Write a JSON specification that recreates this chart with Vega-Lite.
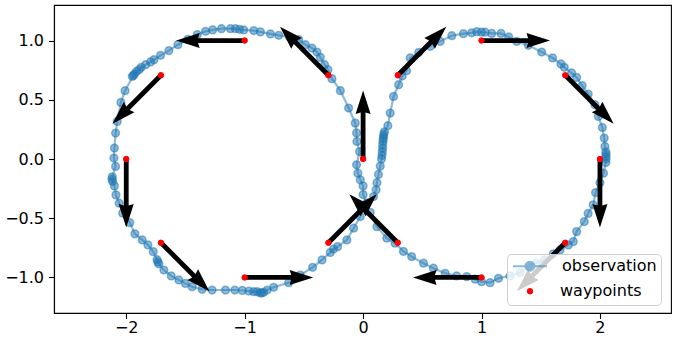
{
  "$schema": "https://vega.github.io/schema/vega-lite/v6.json",
  "width": 617,
  "height": 308,
  "autosize": {"type": "none"},
  "padding": {"left": 54, "top": 5, "right": 9, "bottom": 25},
  "background": "white",
  "config": {
    "view": {"stroke": "black", "strokeWidth": 1.1},
    "axis": {
      "grid": false, "domainColor": "black", "domainWidth": 1.1,
      "tickColor": "black", "tickWidth": 1.1, "tickSize": 5.5, "labelPadding": 5,
      "labelFont": "DejaVu Sans", "labelFontSize": 16, "labelColor": "black", "title": null
    }
  },
  "resolve": {"scale": {"color": "independent"}, "legend": {"color": "independent"}},
  "datasets": {
    "obs": [
      {"x":0.03,"y":-0.37},{"x":0.0,"y":-0.3},{"x":0.0,"y":-0.227},{"x":-0.024,"y":-0.176},{"x":-0.044,"y":-0.12},
      {"x":-0.055,"y":-0.049},{"x":-0.03,"y":0.063},{"x":-0.052,"y":0.148},{"x":-0.055,"y":0.22},{"x":-0.066,"y":0.303},
      {"x":-0.122,"y":0.43},{"x":-0.192,"y":0.577},{"x":-0.263,"y":0.678},{"x":-0.297,"y":0.754},{"x":-0.325,"y":0.796},
      {"x":-0.361,"y":0.858},{"x":-0.39,"y":0.903},{"x":-0.432,"y":0.937},{"x":-0.487,"y":0.965},{"x":-0.544,"y":1.008},
      {"x":-0.62,"y":1.03},{"x":-0.712,"y":1.044},{"x":-0.782,"y":1.056},{"x":-0.867,"y":1.073},{"x":-0.923,"y":1.084},
      {"x":-1.008,"y":1.09},{"x":-1.044,"y":1.095},{"x":-1.078,"y":1.1},{"x":-1.12,"y":1.1},{"x":-1.196,"y":1.1},
      {"x":-1.27,"y":1.09},{"x":-1.33,"y":1.078},{"x":-1.4,"y":1.05},{"x":-1.48,"y":1.01},{"x":-1.564,"y":0.965},
      {"x":-1.64,"y":0.915},{"x":-1.71,"y":0.875},{"x":-1.766,"y":0.838},{"x":-1.794,"y":0.819},{"x":-1.836,"y":0.796},
      {"x":-1.873,"y":0.774},{"x":-1.89,"y":0.755},{"x":-1.912,"y":0.74},{"x":-1.93,"y":0.718},{"x":-1.949,"y":0.697},
      {"x":-1.94,"y":0.705},{"x":-2.01,"y":0.577},{"x":-2.045,"y":0.478},{"x":-2.076,"y":0.317},{"x":-2.09,"y":0.219},
      {"x":-2.1,"y":0.092},{"x":-2.104,"y":0.008},{"x":-2.09,"y":-0.063},{"x":-2.118,"y":-0.15},{"x":-2.12,"y":-0.17},
      {"x":-2.115,"y":-0.19},{"x":-2.1,"y":-0.227},{"x":-2.087,"y":-0.303},{"x":-2.06,"y":-0.373},{"x":-2.03,"y":-0.457},
      {"x":-1.97,"y":-0.537},{"x":-1.927,"y":-0.632},{"x":-1.865,"y":-0.683},{"x":-1.817,"y":-0.725},{"x":-1.772,"y":-0.782},
      {"x":-1.74,"y":-0.85},{"x":-1.733,"y":-0.869},{"x":-1.725,"y":-0.885},{"x":-1.682,"y":-0.937},{"x":-1.62,"y":-0.987},
      {"x":-1.556,"y":-1.021},{"x":-1.5,"y":-1.05},{"x":-1.443,"y":-1.078},{"x":-1.359,"y":-1.1},{"x":-1.275,"y":-1.106},
      {"x":-1.162,"y":-1.106},{"x":-1.083,"y":-1.106},{"x":-1.02,"y":-1.11},{"x":-0.965,"y":-1.115},{"x":-0.923,"y":-1.12},
      {"x":-0.895,"y":-1.12},{"x":-0.87,"y":-1.13},{"x":-0.856,"y":-1.13},{"x":-0.84,"y":-1.125},{"x":-0.81,"y":-1.106},
      {"x":-0.755,"y":-1.083},{"x":-0.628,"y":-1.044},{"x":-0.53,"y":-0.98},{"x":-0.426,"y":-0.914},{"x":-0.347,"y":-0.852},
      {"x":-0.277,"y":-0.79},{"x":-0.25,"y":-0.76},{"x":-0.215,"y":-0.74},{"x":-0.137,"y":-0.683},{"x":-0.08,"y":-0.584},
      {"x":-0.024,"y":-0.486},{"x":0.02,"y":-0.4},{"x":0.089,"y":-0.317},{"x":0.11,"y":-0.26},{"x":0.117,"y":-0.2},
      {"x":0.13,"y":-0.13},{"x":0.145,"y":-0.06},{"x":0.155,"y":0.0},{"x":0.16,"y":0.03},{"x":0.162,"y":0.06},
      {"x":0.165,"y":0.09},{"x":0.165,"y":0.12},{"x":0.168,"y":0.15},{"x":0.17,"y":0.17},{"x":0.172,"y":0.19},
      {"x":0.175,"y":0.21},{"x":0.18,"y":0.23},{"x":0.209,"y":0.281},{"x":0.229,"y":0.388},{"x":0.257,"y":0.528},
      {"x":0.3,"y":0.627},{"x":0.33,"y":0.7},{"x":0.367,"y":0.745},{"x":0.398,"y":0.853},{"x":0.47,"y":0.9},
      {"x":0.567,"y":0.951},{"x":0.651,"y":0.993},{"x":0.749,"y":1.041},{"x":0.847,"y":1.058},{"x":0.917,"y":1.065},
      {"x":0.96,"y":1.075},{"x":1.0,"y":1.07},{"x":1.03,"y":1.07},{"x":1.086,"y":1.06},{"x":1.165,"y":1.06},
      {"x":1.23,"y":1.03},{"x":1.297,"y":0.993},{"x":1.395,"y":0.96},{"x":1.508,"y":0.903},{"x":1.6,"y":0.853},
      {"x":1.671,"y":0.802},{"x":1.699,"y":0.774},{"x":1.761,"y":0.726},{"x":1.803,"y":0.689},{"x":1.85,"y":0.62},
      {"x":1.901,"y":0.548},{"x":1.958,"y":0.458},{"x":1.986,"y":0.359},{"x":2.02,"y":0.266},{"x":2.036,"y":0.177},
      {"x":2.042,"y":0.106},{"x":2.05,"y":0.06},{"x":2.052,"y":0.04},{"x":2.05,"y":0.02},{"x":2.052,"y":0.0},
      {"x":2.05,"y":-0.03},{"x":2.03,"y":-0.12},{"x":2.0,"y":-0.2},{"x":1.963,"y":-0.283},{"x":1.943,"y":-0.387},
      {"x":1.9,"y":-0.46},{"x":1.868,"y":-0.528},{"x":1.803,"y":-0.613},{"x":1.775,"y":-0.697},{"x":1.733,"y":-0.725},
      {"x":1.663,"y":-0.768},{"x":1.606,"y":-0.8},{"x":1.53,"y":-0.852},{"x":1.46,"y":-0.88},{"x":1.395,"y":-0.903},
      {"x":1.325,"y":-0.959},{"x":1.241,"y":-0.987},{"x":1.143,"y":-1.007},{"x":1.072,"y":-1.044},{"x":1.0,"y":-1.036},
      {"x":0.946,"y":-1.015},{"x":0.875,"y":-0.993},{"x":0.79,"y":-0.987},{"x":0.693,"y":-0.965},{"x":0.594,"y":-0.922},
      {"x":0.51,"y":-0.88},{"x":0.41,"y":-0.824},{"x":0.341,"y":-0.78},{"x":0.27,"y":-0.711},{"x":0.2,"y":-0.669},
      {"x":0.117,"y":-0.571},{"x":0.06,"y":-0.45}
    ],
    "wp": [
      {"x":0,"y":0,"heading":0},
      {"x":0.293,"y":0.707,"heading":45},
      {"x":1,"y":1,"heading":90},
      {"x":1.707,"y":0.707,"heading":135},
      {"x":2,"y":0,"heading":180},
      {"x":1.707,"y":-0.707,"heading":225},
      {"x":1,"y":-1,"heading":270},
      {"x":0.293,"y":-0.707,"heading":315},
      {"x":-0.293,"y":0.707,"heading":315},
      {"x":-1,"y":1,"heading":270},
      {"x":-1.707,"y":0.707,"heading":225},
      {"x":-2,"y":0,"heading":180},
      {"x":-1.707,"y":-0.707,"heading":135},
      {"x":-1,"y":-1,"heading":90},
      {"x":-0.293,"y":-0.707,"heading":45}
    ]
  },
  "encoding": {
    "x": {"field": "x", "type": "quantitative",
          "scale": {"domain": [-2.61, 2.6], "nice": false, "zero": false},
          "axis": {"values": [-2, -1, 0, 1, 2], "format": "d", "labelPadding": 1}},
    "y": {"field": "y", "type": "quantitative",
          "scale": {"domain": [-1.3, 1.3], "nice": false, "zero": false},
          "axis": {"values": [-1, -0.5, 0, 0.5, 1], "format": ".1f"}}
  },
  "layer": [
    {
      "data": {"name": "obs"},
      "mark": {"type": "line", "color": "#1f77b4", "strokeWidth": 2.2, "opacity": 0.5},
      "encoding": {"order": {"value": null}}
    },
    {
      "data": {"name": "obs"},
      "mark": {"type": "point", "filled": true, "size": 60, "stroke": "#1f77b4", "strokeWidth": 1.5, "fillOpacity": 0.5, "strokeOpacity": 0.5},
      "encoding": {
        "color": {
          "datum": "observation",
          "scale": {"domain": ["observation"], "range": ["#1f77b4"]},
          "legend": {
            "title": " ", "titleOrient": "bottom", "titleFontSize": 16, "titlePadding": 9.5,
            "orient": "none", "legendX": 453, "legendY": 249,
            "labelFont": "DejaVu Sans", "labelFontSize": 16, "labelColor": "black",
            "padding": 4, "clipHeight": 16.5,
            "symbolType": "M-1,0L1,0M0.26,0A0.26,0.26,0,1,1,-0.26,0A0.26,0.26,0,1,1,0.26,0Z",
            "symbolSize": 1156, "symbolStrokeWidth": 2, "symbolOpacity": 0.5,
            "symbolFillColor": "#1f77b4", "symbolStrokeColor": "#1f77b4",
            "symbolOffset": 1, "labelOffset": 14,
            "strokeColor": "#d0d0d0", "fillColor": "rgba(255,255,255,0.8)", "cornerRadius": 4
          }
        }
      }
    },
    {
      "data": {"name": "wp"},
      "mark": {"type": "point", "filled": true, "shape": "M-0.07,0L-0.07,-1.36L-0.219,-1.314L0,-2L0.219,-1.314L0.07,-1.36L0.07,0Z", "size": 4692, "fill": "black", "strokeWidth": 0, "opacity": 1},
      "encoding": {"angle": {"field": "heading", "type": "quantitative", "scale": null}}
    },
    {
      "data": {"name": "wp"},
      "mark": {"type": "point", "filled": true, "size": 30, "stroke": "#ff0000", "strokeWidth": 1, "opacity": 1},
      "encoding": {
        "color": {
          "datum": "waypoints",
          "scale": {"domain": ["waypoints"], "range": ["#ff0000"]},
          "legend": {
            "title": null, "orient": "none", "legendX": 453, "legendY": 274,
            "labelFont": "DejaVu Sans", "labelFontSize": 16, "labelColor": "black",
            "padding": 4, "clipHeight": 16.5,
            "symbolType": "circle", "symbolSize": 30, "symbolStrokeWidth": 1, "symbolOpacity": 1,
            "symbolFillColor": "#ff0000", "symbolStrokeColor": "#ff0000",
            "symbolOffset": 11, "labelOffset": 22
          }
        }
      }
    }
  ]
}
